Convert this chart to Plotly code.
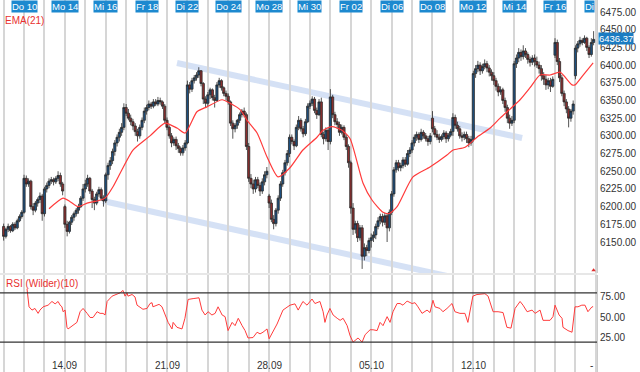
import plotly.graph_objects as go

# ---------------- data ----------------
day_labels = ["Mi 09", "Do 10", "Fr 11", "Mo 14", "Di 15", "Mi 16", "Do 17", "Fr 18",
              "Mo 21", "Di 22", "Mi 23", "Do 24", "Fr 25", "Mo 28", "Di 29", "Mi 30",
              "Do 01", "Fr 02", "Mo 05", "Di 06", "Mi 07", "Do 08", "Fr 09", "Mo 12",
              "Di 13", "Mi 14", "Do 15", "Fr 16", "Mo 19", "Di 20"]
bars_per_day = 9

# hourly OHLC, one row per trading day
open_days = [
    [6172, 6158, 6168, 6172, 6166, 6175, 6170, 6180, 6186],
    [6192, 6240, 6232, 6236, 6200, 6195, 6205, 6210, 6215],
    [6190, 6225, 6230, 6236, 6238, 6235, 6240, 6244, 6232],
    [6200, 6175, 6165, 6178, 6185, 6190, 6195, 6200, 6212],
    [6225, 6232, 6240, 6222, 6210, 6205, 6218, 6224, 6212],
    [6208, 6245, 6258, 6265, 6278, 6290, 6298, 6305, 6312],
    [6340, 6332, 6325, 6320, 6314, 6306, 6300, 6312, 6322],
    [6335, 6340, 6345, 6342, 6348, 6345, 6350, 6348, 6342],
    [6322, 6312, 6300, 6290, 6295, 6286, 6282, 6276, 6283],
    [6290, 6372, 6366, 6378, 6382, 6386, 6392, 6374, 6352],
    [6346, 6358, 6365, 6354, 6350, 6372, 6378, 6368, 6360],
    [6356, 6348, 6318, 6310, 6315, 6322, 6330, 6335, 6330],
    [6285, 6240, 6232, 6225, 6238, 6230, 6222, 6235, 6245],
    [6215, 6205, 6182, 6176, 6195, 6212, 6232, 6248, 6262],
    [6275, 6298, 6292, 6286, 6312, 6322, 6310, 6303, 6320],
    [6342, 6346, 6352, 6336, 6330, 6348, 6302, 6296, 6308],
    [6292, 6355, 6330, 6320, 6316, 6305, 6312, 6298, 6285],
    [6262, 6198, 6168, 6176, 6156, 6170, 6130, 6142, 6138],
    [6152, 6156, 6160, 6172, 6180, 6186, 6178, 6187, 6170],
    [6192, 6218, 6252, 6262, 6255, 6258, 6266, 6260, 6275],
    [6280, 6290, 6298, 6302, 6295, 6305, 6300, 6296, 6292],
    [6325, 6310, 6302, 6298, 6295, 6299, 6304, 6296, 6301],
    [6306, 6326, 6315, 6310, 6300, 6298, 6302, 6296, 6290],
    [6295, 6388, 6395, 6400, 6392, 6398, 6402, 6396, 6390],
    [6385, 6378, 6370, 6362, 6365, 6350, 6340, 6325, 6318],
    [6322, 6402, 6410, 6418, 6412, 6420, 6415, 6408, 6404],
    [6410, 6405, 6400, 6395, 6385, 6380, 6372, 6378, 6370],
    [6414, 6432, 6405, 6382, 6360, 6348, 6338, 6325, 6335],
    [6385, 6424, 6430, 6435, 6432, 6438, 6425, 6415, 6432],
]
high_days = [
    [6176, 6170, 6176, 6174, 6178, 6178, 6183, 6189, 6195],
    [6245, 6244, 6240, 6238, 6205, 6208, 6213, 6220, 6218],
    [6228, 6234, 6240, 6242, 6241, 6243, 6250, 6248, 6235],
    [6203, 6180, 6180, 6188, 6193, 6198, 6204, 6215, 6232],
    [6238, 6245, 6242, 6225, 6214, 6221, 6228, 6227, 6216],
    [6248, 6262, 6270, 6282, 6294, 6302, 6310, 6318, 6346],
    [6345, 6338, 6330, 6324, 6318, 6310, 6316, 6326, 6340],
    [6344, 6350, 6348, 6352, 6352, 6355, 6354, 6350, 6345],
    [6326, 6315, 6304, 6298, 6299, 6290, 6285, 6287, 6294],
    [6378, 6376, 6382, 6386, 6390, 6397, 6393, 6376, 6356],
    [6362, 6368, 6367, 6358, 6376, 6382, 6380, 6370, 6364],
    [6360, 6350, 6322, 6318, 6324, 6333, 6338, 6340, 6333],
    [6290, 6246, 6238, 6242, 6242, 6234, 6240, 6250, 6256],
    [6218, 6210, 6188, 6198, 6216, 6236, 6252, 6266, 6280],
    [6302, 6302, 6295, 6316, 6328, 6325, 6314, 6324, 6346],
    [6350, 6356, 6355, 6340, 6352, 6354, 6306, 6312, 6312],
    [6366, 6358, 6334, 6325, 6320, 6316, 6315, 6302, 6288],
    [6265, 6205, 6180, 6180, 6174, 6174, 6148, 6146, 6156],
    [6162, 6165, 6176, 6185, 6190, 6190, 6191, 6190, 6196],
    [6222, 6256, 6266, 6266, 6262, 6270, 6270, 6280, 6284],
    [6294, 6302, 6306, 6305, 6310, 6308, 6304, 6300, 6304],
    [6335, 6314, 6308, 6303, 6302, 6308, 6307, 6304, 6310],
    [6332, 6330, 6320, 6314, 6305, 6306, 6306, 6300, 6300],
    [6392, 6400, 6406, 6404, 6402, 6408, 6406, 6400, 6394],
    [6390, 6382, 6374, 6370, 6368, 6354, 6344, 6330, 6328],
    [6406, 6415, 6424, 6422, 6428, 6424, 6418, 6412, 6414],
    [6415, 6412, 6405, 6400, 6390, 6386, 6382, 6382, 6384],
    [6438, 6436, 6410, 6386, 6364, 6352, 6342, 6338, 6350],
    [6428, 6434, 6440, 6438, 6442, 6440, 6428, 6438, 6448],
]
low_days = [
    [6152, 6155, 6164, 6163, 6164, 6167, 6168, 6178, 6183],
    [6190, 6228, 6228, 6196, 6188, 6192, 6200, 6205, 6180],
    [6186, 6220, 6226, 6232, 6230, 6232, 6236, 6228, 6216],
    [6170, 6158, 6162, 6174, 6180, 6186, 6190, 6198, 6208],
    [6220, 6228, 6218, 6198, 6195, 6202, 6214, 6208, 6200],
    [6205, 6238, 6252, 6260, 6272, 6285, 6292, 6300, 6308],
    [6328, 6322, 6315, 6308, 6300, 6292, 6296, 6308, 6318],
    [6330, 6336, 6338, 6339, 6342, 6342, 6344, 6338, 6318],
    [6308, 6296, 6284, 6286, 6280, 6276, 6272, 6272, 6279],
    [6288, 6360, 6362, 6374, 6378, 6382, 6370, 6345, 6340],
    [6342, 6352, 6350, 6340, 6348, 6368, 6364, 6356, 6350],
    [6344, 6314, 6296, 6305, 6310, 6318, 6326, 6326, 6280],
    [6235, 6226, 6218, 6220, 6226, 6215, 6218, 6230, 6240],
    [6198, 6178, 6168, 6172, 6190, 6208, 6228, 6244, 6258],
    [6270, 6288, 6280, 6284, 6308, 6306, 6298, 6300, 6318],
    [6338, 6342, 6332, 6324, 6328, 6298, 6288, 6292, 6280],
    [6288, 6325, 6315, 6310, 6300, 6302, 6294, 6280, 6255],
    [6190, 6160, 6162, 6150, 6152, 6112, 6124, 6130, 6134],
    [6142, 6150, 6154, 6168, 6175, 6172, 6174, 6150, 6165],
    [6188, 6214, 6248, 6250, 6250, 6254, 6256, 6258, 6270],
    [6276, 6285, 6293, 6290, 6292, 6296, 6292, 6286, 6288],
    [6305, 6298, 6294, 6290, 6292, 6295, 6290, 6292, 6298],
    [6300, 6310, 6306, 6296, 6292, 6294, 6290, 6284, 6286],
    [6292, 6382, 6390, 6386, 6388, 6394, 6390, 6384, 6378],
    [6372, 6364, 6356, 6358, 6345, 6334, 6318, 6310, 6314],
    [6318, 6396, 6404, 6406, 6408, 6410, 6402, 6398, 6400],
    [6398, 6396, 6388, 6378, 6372, 6365, 6366, 6362, 6368],
    [6410, 6400, 6376, 6356, 6342, 6332, 6312, 6320, 6330],
    [6380, 6418, 6426, 6428, 6430, 6420, 6410, 6412, 6428],
]
close_days = [
    [6158, 6168, 6172, 6166, 6175, 6170, 6180, 6186, 6192],
    [6240, 6232, 6236, 6200, 6195, 6205, 6210, 6215, 6190],
    [6225, 6230, 6236, 6238, 6235, 6240, 6244, 6232, 6222],
    [6175, 6165, 6178, 6185, 6190, 6195, 6200, 6212, 6225],
    [6232, 6240, 6222, 6210, 6205, 6218, 6224, 6212, 6208],
    [6245, 6258, 6265, 6278, 6290, 6298, 6305, 6312, 6340],
    [6332, 6325, 6320, 6314, 6306, 6300, 6312, 6322, 6335],
    [6340, 6345, 6342, 6348, 6345, 6350, 6348, 6342, 6322],
    [6312, 6300, 6290, 6295, 6286, 6282, 6276, 6283, 6290],
    [6372, 6366, 6378, 6382, 6386, 6392, 6374, 6352, 6346],
    [6358, 6365, 6354, 6350, 6372, 6378, 6368, 6360, 6356],
    [6348, 6318, 6310, 6315, 6322, 6330, 6335, 6330, 6285],
    [6240, 6232, 6225, 6238, 6230, 6222, 6235, 6245, 6250],
    [6205, 6182, 6176, 6195, 6212, 6232, 6248, 6262, 6275],
    [6298, 6292, 6286, 6312, 6322, 6310, 6303, 6320, 6342],
    [6346, 6352, 6336, 6330, 6348, 6302, 6296, 6308, 6292],
    [6355, 6330, 6320, 6316, 6305, 6312, 6298, 6285, 6262],
    [6198, 6168, 6176, 6156, 6170, 6130, 6142, 6138, 6152],
    [6156, 6160, 6172, 6180, 6186, 6178, 6187, 6170, 6192],
    [6218, 6252, 6262, 6255, 6258, 6266, 6260, 6275, 6280],
    [6290, 6298, 6302, 6295, 6305, 6300, 6296, 6292, 6300],
    [6310, 6302, 6298, 6295, 6299, 6304, 6296, 6301, 6306],
    [6326, 6315, 6310, 6300, 6298, 6302, 6296, 6290, 6295],
    [6388, 6395, 6400, 6392, 6398, 6402, 6396, 6390, 6385],
    [6378, 6370, 6362, 6365, 6350, 6340, 6325, 6318, 6322],
    [6402, 6410, 6418, 6412, 6420, 6415, 6408, 6404, 6410],
    [6405, 6400, 6395, 6385, 6380, 6372, 6378, 6370, 6380],
    [6432, 6405, 6382, 6360, 6348, 6338, 6325, 6335, 6345],
    [6424, 6430, 6435, 6432, 6438, 6425, 6415, 6432, 6436.37],
]
last_price = 6436.37

# EMA(21) (bar position, value)
ema_bar = [20.0, 26.2, 29.3, 32.8, 36.8, 41.2, 44.7, 48.2, 52.6, 57.0, 64.5, 71.1, 76.4,
           80.0, 85.2, 89.6, 96.3, 99.8, 104.2, 107.3, 111.7, 116.1, 120.9, 126.2, 131.9,
           138.1, 140.8, 144.7, 149.1, 152.7, 158.4, 162.4, 167.2, 169.9, 173.4, 180.4,
           187.9, 195.4, 198.1, 203.4, 208.6, 214.4, 218.8, 227.6, 232.0, 236.4, 240.8,
           245.2, 250.5, 251.8, 255.4, 259.8]
ema_val = [6197, 6212, 6207, 6200, 6205, 6208, 6212, 6228, 6255, 6280, 6300, 6318, 6311,
           6304, 6334, 6341, 6351, 6346, 6337, 6322, 6304, 6270, 6242, 6255, 6280,
           6298, 6308, 6313, 6308, 6296, 6233, 6209, 6192, 6190, 6200, 6242,
           6256, 6273, 6280, 6284, 6298, 6311, 6325, 6351, 6368, 6386, 6386,
           6390, 6372, 6372, 6386, 6403]

# RSI (Wilder)(10) (bar position, value)
rsi_bar = [10.3, 11.2, 12.5, 13.8, 15.2, 16.0, 17.4, 19.6, 21.3, 22.7, 24.0, 24.9, 25.7, 26.2,
           27.1, 27.9, 28.4, 30.1, 32.3, 33.7, 35.0, 36.8, 38.1, 39.4, 41.2, 42.5, 43.8, 44.7,
           45.6, 47.8, 50.0, 51.3, 52.6, 53.5, 54.4, 54.8, 56.6, 57.9, 58.8, 60.1, 61.4, 63.2,
           64.5, 65.4, 65.8, 67.6, 68.5, 69.8, 71.1, 72.5, 74.2, 74.7, 76.4, 78.6, 79.9, 81.3,
           83.5, 86.1, 87.4, 88.8, 90.1, 91.8, 93.2, 94.5, 96.3, 97.6, 98.9, 100.7, 102.0,
           103.4, 105.1, 106.4, 107.7, 109.9, 111.7, 113.0, 114.3, 116.1, 117.0, 118.7, 120.5,
           123.1, 126.2, 128.4, 129.8, 131.9, 133.7, 135.9, 137.2, 139.4, 140.8, 141.6, 142.5,
           143.8, 145.2, 147.0, 148.3, 149.6, 151.4, 152.7, 154.0, 154.9, 156.2, 158.0, 159.3,
           161.5, 162.8, 164.6, 165.9, 167.2, 169.0, 170.3, 171.6, 173.4, 174.7, 176.0, 177.8,
           180.0, 181.3, 182.6, 184.4, 186.6, 187.9, 189.2, 190.1, 192.3, 193.6, 195.4, 197.6,
           198.9, 201.1, 203.3, 204.6, 206.8, 208.6, 212.1, 213.5, 215.7, 217.9, 220.1, 221.8,
           223.6, 225.4, 227.6, 228.9, 230.7, 232.9, 234.2, 236.4, 237.7, 240.8, 242.1, 243.0,
           244.8, 246.1, 246.5, 248.7, 250.5, 251.8, 253.1, 254.8, 256.2, 257.5, 259.3, 259.8]
rsi_val = [85, 63, 59, 61, 55, 59, 63, 65, 69.5, 66.6, 69.5, 65, 63, 57,
           59, 38, 36, 40, 44, 57, 61, 55, 50, 50, 57, 55, 55, 53,
           69.5, 76, 79, 80, 83, 76, 80, 76, 78, 75, 65, 63, 60, 61,
           67, 68, 63, 65, 66, 63, 53, 44, 36, 44, 38, 36, 49, 72,
           73, 74, 59, 53, 57, 53, 55, 63, 53, 51, 34, 44, 40,
           49, 40, 34, 25, 25.5, 32, 30, 32, 36, 24, 32, 42,
           59, 65, 66.6, 59, 69.5, 65, 72.5, 67, 69.5, 57, 44, 53,
           61, 53, 49, 46.5, 49, 40, 27.6, 20, 22, 25, 20, 29,
           35, 35, 34, 44, 40, 51, 44, 57, 67, 67, 65, 70,
           67, 68, 63, 55, 59, 56, 71, 63, 61, 57, 61, 67,
           57, 55, 55, 44, 76, 78, 79, 76, 57, 57, 56, 38,
           37, 61, 69.5, 65, 57, 59, 55, 59, 46.5, 46.5, 51, 65,
           53, 49, 38, 34, 32, 63, 63, 65, 65, 57, 63, 63]
rsi_levels = [80, 20]

# trend channel (bar position, price)
channel_upper = [(76.4, 6403), (228.5, 6297)]
channel_lower = [(43.8, 6208), (195.4, 6102)]

price_ticks = list(range(6150, 6476, 25))
rsi_ticks = [25, 50, 75]
date_label_days = [3, 8, 13, 18, 23]
date_labels = ["14.09", "21.09", "28.09", "05.10", "12.10"]

# ---------------- build ----------------
def flat(rows):
    return [v for r in rows for v in r]

o, h, l, c = flat(open_days), flat(high_days), flat(low_days), flat(close_days)
bars = list(range(len(c)))
day_starts = [k * bars_per_day for k in range(len(day_labels))]

FONT = "Liberation Sans, Arial, sans-serif"
W, H = 640, 372
main_bottom_px, rsi_top_px = 273, 275
main_dom = [1 - main_bottom_px / H, 1]
rsi_dom = [0, 1 - rsi_top_px / H]

fig = go.Figure()

fig.add_trace(go.Candlestick(
    x=bars, open=o, high=h, low=l, close=c,
    increasing=dict(fillcolor="#1d4f7e", line=dict(color="#2a2a2a", width=0.8)),
    decreasing=dict(fillcolor="#8c2e2e", line=dict(color="#2a2a2a", width=0.8)),
    whiskerwidth=0, xaxis="x", yaxis="y", showlegend=False, hoverinfo="skip"))

fig.add_trace(go.Scatter(x=ema_bar, y=ema_val, mode="lines",
                         line=dict(color="#ff3b3b", width=1.2, shape="spline", smoothing=0.6),
                         xaxis="x", yaxis="y", showlegend=False, hoverinfo="skip"))

fig.add_trace(go.Scatter(x=rsi_bar, y=rsi_val, mode="lines",
                         line=dict(color="#ff3b3b", width=1),
                         xaxis="x2", yaxis="y2", showlegend=False, hoverinfo="skip"))

# small red marker at the end of the price panel
fig.add_trace(go.Scatter(x=[bars[-1]], y=[6110], mode="markers",
                         marker=dict(symbol="triangle-up", size=4, color="#e03030"),
                         xaxis="x", yaxis="y", showlegend=False, hoverinfo="skip",
                         cliponaxis=False))

shapes = []
for (x0, y0), (x1, y1) in (channel_upper, channel_lower):
    shapes.append(dict(type="line", xref="x", yref="y", x0=x0, y0=y0, x1=x1, y1=y1,
                       line=dict(color="rgba(185,205,238,0.6)", width=6), layer="below"))
for lv in rsi_levels:
    shapes.append(dict(type="line", xref="paper", yref="y2", x0=0, x1=1, y0=lv, y1=lv,
                       line=dict(color="#333333", width=1.2)))
sep = 1 - 274 / H
shapes.append(dict(type="line", xref="paper", yref="paper", x0=0, x1=1, y0=sep, y1=sep,
                   line=dict(color="#cfcfcf", width=1)))

ann = []
for k, lab in enumerate(day_labels):
    if k % 2 == 1:
        last = k == len(day_labels) - 1
        ann.append(dict(x=day_starts[k], y=1, xref="x", yref="paper",
                        text=lab.split()[0] if last else lab,
                        xanchor="right" if last else "center", yanchor="top",
                        xshift=-1 if last else 0, yshift=0,
                        showarrow=False, bgcolor="#1d89cf", borderpad=0,
                        font=dict(family=FONT, size=9.5, color="white")))
for d, lab in zip(date_label_days, date_labels):
    ann.append(dict(x=day_starts[d], y=0, xref="x", yref="paper", text=lab,
                    xanchor="center", yanchor="bottom", yshift=-1, showarrow=False,
                    font=dict(family=FONT, size=10, color="#333333")))
ann.append(dict(x=259, y=0, xref="x", yref="paper", text="-", xanchor="center",
                yanchor="bottom", yshift=-1, showarrow=False,
                font=dict(family=FONT, size=10, color="#333333")))
ann.append(dict(x=1, y=last_price, xref="paper", yref="y", text=f"{last_price:.2f}",
                xanchor="left", yanchor="middle", showarrow=False, bgcolor="#1b7cc2",
                borderpad=0, xshift=1, yshift=1,
                font=dict(family=FONT, size=9.5, color="white")))
ann.append(dict(x=0, y=1 - 21 / H, xref="paper", yref="paper", text="EMA(21)",
                xanchor="left", yanchor="middle", xshift=3, showarrow=False,
                font=dict(family=FONT, size=10, color="#e8312f")))
ann.append(dict(x=0, y=1 - 283 / H, xref="paper", yref="paper", text="RSI (Wilder)(10)",
                xanchor="left", yanchor="middle", xshift=4, showarrow=False,
                font=dict(family=FONT, size=10, color="#e8312f")))

xcommon = dict(range=[-1.6, 261.5], tickvals=day_starts, showticklabels=False,
               showgrid=True, gridcolor="#d6d6d6", gridwidth=1.5, zeroline=False,
               ticks="", fixedrange=True)
ycommon = dict(side="right", tickformat=".2f", showgrid=False, zeroline=False,
               showline=True, linecolor="#cccccc", ticks="", ticklen=0,
               tickfont=dict(family=FONT, size=10, color="#333333"))

fig.update_layout(
    width=W, height=H,
    margin=dict(l=0, r=43, t=0, b=0),
    paper_bgcolor="white", plot_bgcolor="white",
    font=dict(family=FONT, size=10, color="#333333"),
    boxgap=0.05, boxgroupgap=0,
    xaxis=dict(domain=[0, 1], anchor="y", rangeslider=dict(visible=False), **xcommon),
    xaxis2=dict(domain=[0, 1], anchor="y2", matches="x", **xcommon),
    yaxis=dict(domain=main_dom, range=[6106.2, 6492], tickvals=price_ticks, **ycommon),
    yaxis2=dict(domain=rsi_dom, range=[-16.5, 101.8], tickvals=rsi_ticks, **ycommon),
    shapes=shapes, annotations=ann, showlegend=False,
)

fig.write_html("out.html", config={"displayModeBar": False},
               post_script="document.body.style.margin='0';document.body.style.padding='0';")
